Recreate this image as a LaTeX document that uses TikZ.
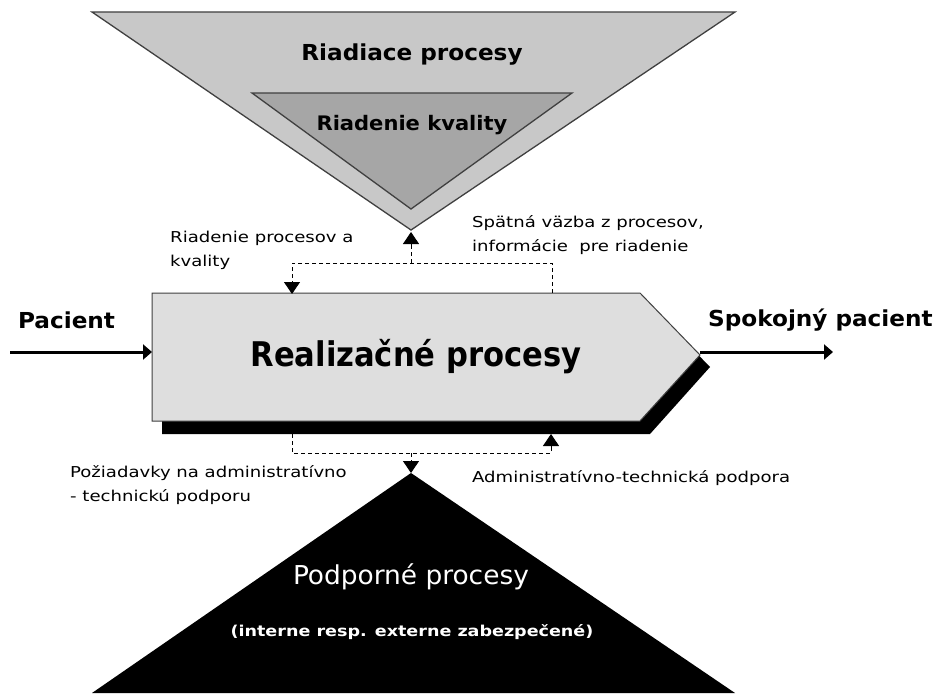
\documentclass[tikz,border=0pt]{standalone}
\usepackage{fontspec}
\setmainfont{DejaVu Sans Condensed}
\newfontfamily\fsA[FakeStretch=1.17]{DejaVu Sans Condensed}
\newfontfamily\fsB[FakeStretch=1.13]{DejaVu Sans Condensed}
\newfontfamily\fsC[FakeStretch=1.30]{DejaVu Sans Condensed}
\newfontfamily\fsD[FakeStretch=1.34]{DejaVu Sans Condensed}
\usetikzlibrary{arrows.meta}
\definecolor{outergray}{HTML}{C8C8C8}
\definecolor{innergray}{HTML}{A6A6A6}
\definecolor{boxgray}{HTML}{DEDEDE}
\definecolor{edgegray}{HTML}{404040}
\tikzset{
  lbl/.style={font=\fsD\fontsize{15}{24}\selectfont, align=left, inner sep=0pt},
  dashline/.style={dashed, dash pattern=on 4pt off 3pt, line width=1pt},
  tip/.style={-{Triangle[width=16pt,length=12pt]}},
  flow/.style={line width=3pt, -{Triangle[width=15pt,length=9pt]}},
  bigtxt/.style={font=\fsA\fontsize{22}{26}\selectfont\bfseries, inner sep=0pt}
}
\begin{document}
\begin{tikzpicture}[x=1pt,y=-1pt]
\useasboundingbox (0,0) rectangle (936,693);
\fill[white] (0,0) rectangle (936,693);
% top triangles
\draw[fill=outergray, draw=edgegray, line width=1.3pt] (92,12) -- (735,12) -- (411,230) -- cycle;
\draw[fill=innergray, draw=edgegray, line width=1.3pt] (252,93) -- (572,93) -- (411,209) -- cycle;
\node[bigtxt] (rp) at (412,55) {Riadiace procesy};
\node[bigtxt, font=\fsA\fontsize{20}{24}\selectfont\bfseries] (rk) at (412,125) {Riadenie kvality};
\coordinate (apexT) at (411,232);
% bottom triangle
\fill[black] (411,473) -- (735,693) -- (92,693) -- cycle;
\coordinate (apexB) at (411,473);
\node[text=white, font=\fsB\fontsize{26}{30}\selectfont, inner sep=0pt] (pp) at (411,577) {Podporné procesy};
\node[text=white, font=\fsC\fontsize{15}{18}\selectfont\bfseries, inner sep=0pt] (ie) at (412,632) {(interne resp. externe zabezpečené)};
% main box with shadow
\fill[black] (162,305) -- (650,305) -- (710,367) -- (650,434) -- (162,434) -- cycle;
\draw[fill=boxgray, draw=edgegray, line width=1pt] (152,293) -- (640,293) -- (700,355) -- (640,421) -- (152,421) -- cycle;
\node[font=\fontsize{34}{40}\selectfont\bfseries, inner sep=0pt] (rz) at (416,357) {Realizačné procesy};
\coordinate (boxW) at (152,352);
\coordinate (boxE) at (700,352);
% input / output
\coordinate (inS) at (10,352);
\coordinate (outE) at (833,352);
\node[bigtxt, anchor=west] (pac) at (18,320) {Pacient};
\node[bigtxt, anchor=west] (spk) at (708,320) {Spokojný pacient};
\draw[flow] (inS) -- (boxW);
\draw[flow] (boxE) -- (outE);
% top feedback
\coordinate (t1) at (292,263);
\coordinate (t2) at (552,263);
\coordinate (tm) at (411,263);
\coordinate (boxT1) at (292,294);
\coordinate (boxT2) at (552,293);
\draw[dashline] (boxT2) -- (t2) -- (t1) -- (292,283);
\draw[tip, line width=1pt] (292,282) -- (boxT1);
\draw[dashline] (tm) -- (411,245);
\draw[tip, line width=1pt] (411,246) -- (apexT);
\node[lbl, anchor=north west] (l1) at (170,231) {Riadenie procesov a\\kvality};
\node[lbl, anchor=north west] (l2) at (472,215) {Spätná väzba z procesov,\\informácie\ \ pre riadenie};
% bottom support
\coordinate (b1) at (292,453);
\coordinate (b2) at (551,453);
\coordinate (bm) at (411,453);
\coordinate (boxB1) at (292,434);
\coordinate (boxB2) at (551,434);
\draw[dashline] (boxB1) -- (b1) -- (b2) -- (551,446);
\draw[tip, line width=1pt] (551,446) -- (boxB2);
\draw[dashline] (bm) -- (411,462);
\draw[tip, line width=1pt] (411,461) -- (apexB);
\node[lbl, anchor=north west] (l3) at (70,465) {Požiadavky na administratívno\\- technickú podporu};
\node[lbl, anchor=north west] (l4) at (472,470) {Administratívno-technická podpora};
\end{tikzpicture}
\end{document}
